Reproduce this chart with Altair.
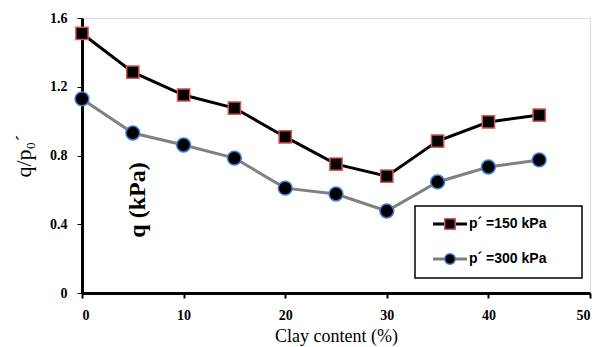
import altair as alt
import pandas as pd

clay = [0, 5, 10, 15, 20, 25, 30, 35, 40, 45]
q150 = [1.51, 1.285, 1.152, 1.076, 0.908, 0.75, 0.68, 0.884, 0.995, 1.035]
q300 = [1.129, 0.931, 0.861, 0.785, 0.61, 0.576, 0.477, 0.646, 0.733, 0.774]
series_names = ["p\u00b4 =150 kPa", "p\u00b4 =300 kPa"]
x_ticks = [0, 10, 20, 30, 40, 50]
y_ticks = [0, 0.4, 0.8, 1.2, 1.6]

df1 = pd.DataFrame({"clay": clay, "q": q150})
df2 = pd.DataFrame({"clay": clay, "q": q300})

W, H = 508, 275

xs = alt.Scale(domain=[0, 50], nice=False)
ys = alt.Scale(domain=[0, 1.6], nice=False)

xaxis = alt.Axis(values=x_ticks, title="Clay content (%)", grid=False,
                 labelFont="Liberation Serif", labelFontWeight="bold", labelFontSize=14,
                 labelColor="black", titleFont="Liberation Serif", titleFontSize=18,
                 titleFontWeight="normal", titleColor="black", titlePadding=5,
                 domainColor="black", domainWidth=3, tickColor="black", tickWidth=2,
                 tickSize=5, labelPadding=10)
yaxis = alt.Axis(values=y_ticks, title="q/p\u2080\u00b4", grid=False,
                 labelFont="Liberation Serif", labelFontWeight="bold", labelFontSize=14,
                 labelColor="black", titleFont="Liberation Serif", titleFontSize=22,
                 titleFontWeight="normal", titleColor="black", titlePadding=14,
                 domainColor="black", domainWidth=3, tickColor="black", tickWidth=1,
                 tickSize=5, labelPadding=10,
                 labelExpr="datum.value == 0 ? '0' : format(datum.value, '.1f')")

def series(df, line_color, fill, stroke, shape, size):
    base = alt.Chart(df).encode(
        x=alt.X("clay:Q", scale=xs, axis=xaxis),
        y=alt.Y("q:Q", scale=ys, axis=yaxis),
    )
    line = base.mark_line(color=line_color, strokeWidth=3)
    pts = base.mark_point(shape=shape, filled=True, fill=fill, stroke=stroke,
                          strokeWidth=1.5, size=size, opacity=1)
    return line + pts

s1 = series(df1, "black", "black", "#d9534f", "square", 150)
s2 = series(df2, "#808080", "black", "#3a7fd5", "circle", 190)

# stray vertical label inside the plot
qlab = alt.Chart(pd.DataFrame({"t": ["q (kPa)"]})).mark_text(
    angle=270, font="Liberation Serif", fontWeight="bold", fontSize=24, color="black",
    baseline="middle"
).encode(x=alt.value(56), y=alt.value(182), text="t:N")

# legend (manual)
box = alt.Chart(pd.DataFrame({"a": [0]})).mark_rect(
    fill="white", stroke="black", strokeWidth=1.5
).encode(x=alt.value(333), x2=alt.value(500), y=alt.value(188), y2=alt.value(260))

leg = pd.DataFrame({"name": series_names, "row": [0, 1]})
rows = [206, 241]
leg_items = []
for i, (lc, st, shp, sz) in enumerate([("black", "#d9534f", "square", 110),
                                         ("#808080", "#3a7fd5", "circle", 110)]):
    d = leg.iloc[[i]]
    ln = alt.Chart(d).mark_rule(color=lc, strokeWidth=3).encode(
        x=alt.value(351), x2=alt.value(385), y=alt.value(rows[i]))
    pt = alt.Chart(d).mark_point(shape=shp, filled=True, fill="black", stroke=st,
                                 strokeWidth=1.5, size=sz, opacity=1).encode(
        x=alt.value(368), y=alt.value(rows[i]))
    tx = alt.Chart(d).mark_text(align="left", baseline="middle", font="Liberation Sans",
                                fontWeight="bold", fontSize=14, color="black").encode(
        x=alt.value(387), y=alt.value(rows[i]), text="name:N")
    leg_items += [ln, pt, tx]

chart = alt.layer(s2, s1, qlab, box, *leg_items).properties(
    width=W, height=H,
    autosize=alt.AutoSizeParams(type="none"),
    padding={"left": 82, "top": 18, "right": 15, "bottom": 54},
).configure_view(stroke="black", strokeWidth=3).configure(background="white")

chart.save("out.html", embed_options={"renderer": "svg", "actions": False})
